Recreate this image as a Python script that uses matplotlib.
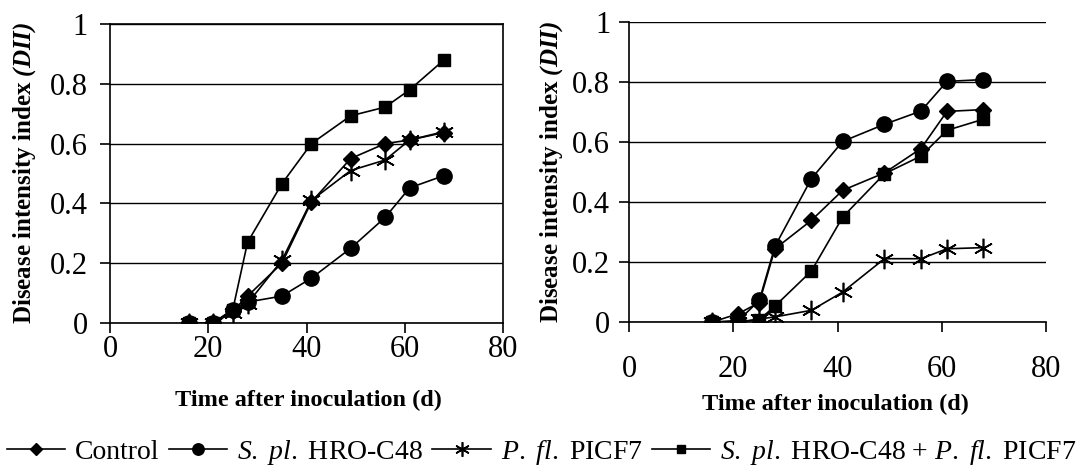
import matplotlib
matplotlib.use("Agg")
import matplotlib.pyplot as plt

plt.rcParams['font.family'] = ['Liberation Serif', 'DejaVu Serif']
plt.rcParams['mathtext.fontset'] = 'custom'
plt.rcParams['mathtext.rm'] = 'Liberation Serif'
plt.rcParams['mathtext.it'] = 'Liberation Serif:italic'
plt.rcParams['mathtext.bf'] = 'Liberation Serif:italic:bold'

days = [16, 21, 25, 28, 35, 41, 49, 56, 61, 68]

# left panel
left_control = [0, 0, 0.04, 0.09, 0.20, 0.405, 0.55, 0.60, 0.612, 0.637]
left_spl = [0, 0, 0.045, 0.07, 0.09, 0.15, 0.25, 0.353, 0.452, 0.493]
left_pfl = [0, 0, 0.035, 0.065, 0.21, 0.41, 0.51, 0.545, 0.612, 0.64]
left_combo = [0, 0, 0.045, 0.27, 0.466, 0.60, 0.693, 0.722, 0.78, 0.88]

# right panel
right_control = [0, 0.028, 0.065, 0.244, 0.339, 0.439, 0.497, 0.578, 0.702, 0.708]
right_spl = [0, 0.005, 0.072, 0.252, 0.478, 0.602, 0.659, 0.703, 0.802, 0.808]
right_pfl = [0, 0, 0.01, 0.017, 0.039, 0.10, 0.211, 0.211, 0.244, 0.248]
right_combo = [0, 0, 0.008, 0.053, 0.17, 0.35, 0.494, 0.553, 0.639, 0.676]

labels = ["Control",
          r"$\mathit{S.\ pl.}$ HRO-C48",
          r"$\mathit{P.\ fl.}$ PICF7",
          r"$\mathit{S.\ pl.}$ HRO-C48 + $\mathit{P.\ fl.}$ PICF7"]

styles = [dict(marker='D', ms=8.5),
          dict(marker='o', ms=11),
          dict(marker=(6, 2, 0), ms=14, mew=1.2),
          dict(marker='s', ms=8.5)]

fig = plt.figure(figsize=(10.85, 4.66), dpi=100)
ax1 = fig.add_axes([0.1014, 0.3069, 0.3622, 0.6416])
ax2 = fig.add_axes([0.5797, 0.309, 0.3844, 0.6438])

ylabel = r"Disease intensity index $\mathbf{(DII)}$"
xlabel = "Time after inoculation (d)"

panels = [
    (ax1, [left_control, left_spl, left_pfl, left_combo], 2, 9, (-0.183, 0.5), (0.504, -0.225)),
    (ax2, [right_control, right_spl, right_pfl, right_combo], 17, 6.5, (-0.153, 0.5), (0.494, -0.24)),
]

handles = []
for ax, series, xpad, ypad, ylc, xlc in panels:
    handles = []
    for vals, st in zip(series, styles):
        h, = ax.plot(days, vals, color='black', lw=1.2, mfc='black', mec='black', **st)
        handles.append(h)
    ax.set_xlim(0, 80)
    ax.set_ylim(0, 1)
    ax.set_xticks([0, 20, 40, 60, 80])
    ax.set_yticks([0, 0.2, 0.4, 0.6, 0.8, 1])
    ax.set_yticklabels(["0", "0.2", "0.4", "0.6", "0.8", "1"])
    ax.tick_params(axis='x', direction='out', length=7, width=1.2, labelsize=22, pad=xpad)
    ax.tick_params(axis='y', direction='out', length=7, width=1.2, labelsize=22, pad=ypad)
    ax.yaxis.grid(True, color='black', lw=1.0)
    ax.set_axisbelow(True)
    for s in ax.spines.values():
        s.set_linewidth(1.2)
    ax.set_ylabel(ylabel, fontsize=18, fontweight='bold')
    ax.set_xlabel(xlabel, fontsize=17.5, fontweight='bold')
    ax.yaxis.set_label_coords(*ylc)
    ax.xaxis.set_label_coords(*xlc)

ax2.spines['top'].set_visible(False)
ax2.spines['right'].set_visible(False)

fig.legend(handles, labels, loc='center left', bbox_to_anchor=(0.006, 0.03), ncol=4,
           frameon=False, fontsize=20, handlelength=2.1, handletextpad=0.35,
           columnspacing=0.35, borderaxespad=0, borderpad=0, markerscale=0.75)

fig.savefig("out.png", dpi=100)
